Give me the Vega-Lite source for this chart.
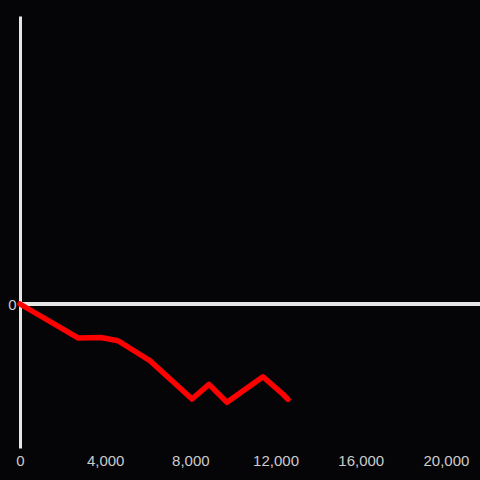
{
  "$schema": "https://vega.github.io/schema/vega-lite/v6.json",
  "width": 460,
  "height": 432,
  "autosize": {"type": "none"},
  "padding": {"left": 20, "top": 16, "right": 0, "bottom": 32},
  "background": "#050407",
  "config": {
    "view": {"stroke": null},
    "axis": {"labelFont": "Liberation Sans", "labelFontSize": 15, "labelColor": "#cccccc", "grid": false, "ticks": false}
  },
  "data": {"values": [
    {"x": 0, "y": 0},
    {"x": 2723, "y": -0.236},
    {"x": 3803, "y": -0.233},
    {"x": 4602, "y": -0.255},
    {"x": 6104, "y": -0.394},
    {"x": 8077, "y": -0.66},
    {"x": 8875, "y": -0.558},
    {"x": 9720, "y": -0.683},
    {"x": 11410, "y": -0.505},
    {"x": 12350, "y": -0.627},
    {"x": 12584, "y": -0.662}
  ]},
  "layer": [
    {
      "mark": {"type": "rule", "color": "#e6e6e6", "strokeWidth": 3},
      "encoding": {"y": {"datum": 0, "type": "quantitative", "scale": {"domain": [-1, 2]}}}
    },
    {
      "mark": {"type": "line", "color": "#ff0000", "strokeWidth": 5.5, "strokeCap": "round", "strokeJoin": "round"},
      "encoding": {
        "x": {"field": "x", "type": "quantitative", "scale": {"domain": [0, 21600], "nice": false},
          "axis": {"title": null, "domain": false, "values": [0, 4000, 8000, 12000, 16000, 20000], "labelPadding": 5, "labelFlush": false}},
        "y": {"field": "y", "type": "quantitative", "scale": {"domain": [-1, 2], "nice": false},
          "axis": {"title": null, "domain": true, "domainColor": "#e6e6e6", "domainWidth": 3, "values": [0], "format": "d", "labelPadding": 4}}
      }
    }
  ]
}
